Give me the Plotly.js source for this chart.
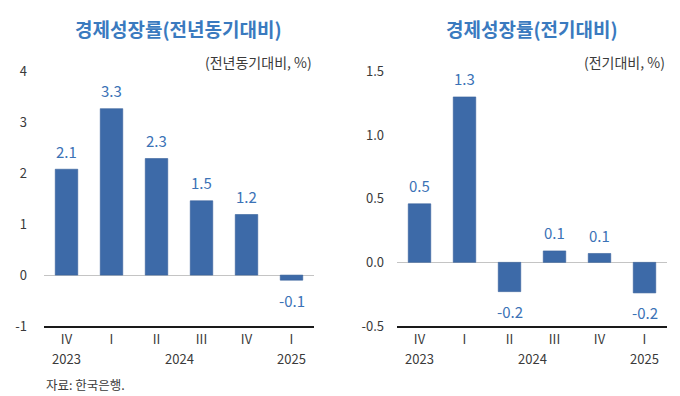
<!DOCTYPE html>
<html>
<head>
<meta charset="utf-8">
<script src="https://cdn.plot.ly/plotly-3.0.1.min.js"></script>
<style>html,body{margin:0;padding:0;background:#fff;}#chart{width:680px;height:396px;}</style>
</head>
<body>
<div id="chart"></div>
<script>
// Data
const quarters = ['IV', 'I', 'II', 'III', 'IV', 'I'];
const yearLabels = ['2023', '2024', '2025'];
const yearPositions = [0, 2.5, 5];
const yoyValues = [2.08, 3.27, 2.29, 1.46, 1.19, -0.1];   // 전년동기대비
const qoqValues = [0.46, 1.30, -0.23, 0.09, 0.07, -0.24]; // 전기대비
const yoyTicks = [-1, 0, 1, 2, 3, 4];
const yoyTickText = ['-1', '0', '1', '2', '3', '4'];
const qoqTicks = [-0.5, 0, 0.5, 1, 1.5];
const qoqTickText = ['-0.5', '0.0', '0.5', '1.0', '1.5'];
const leftTitle = '경제성장률(전년동기대비)';
const rightTitle = '경제성장률(전기대비)';
const leftUnit = '(전년동기대비, %)';
const rightUnit = '(전기대비, %)';
const sourceText = '자료: 한국은행.';

const FONT = '"Noto Sans CJK KR", "Noto Sans", sans-serif';
const BAR = '#3d6aa8';
const LABEL = '#3b72b6';
const TITLE = '#3a7abf';
const TXT = '#3a3a3a';
const xIdx = quarters.map((_, i) => i);

const traces = [
  {type: 'bar', x: xIdx, y: yoyValues, xaxis: 'x', yaxis: 'y', marker: {color: BAR, line: {color: '#35609b', width: 0.6}}, width: 0.5, hoverinfo: 'skip'},
  {type: 'bar', x: xIdx, y: qoqValues, xaxis: 'x2', yaxis: 'y2', marker: {color: BAR, line: {color: '#35609b', width: 0.6}}, width: 0.5, hoverinfo: 'skip'}
];

const annotations = [];
function valueLabels(vals, xr, yr) {
  vals.forEach((v, i) => {
    annotations.push({xref: xr, yref: yr, x: i, y: v, text: v.toFixed(1), showarrow: false,
      xanchor: 'center', yanchor: 'middle', yshift: v >= 0 ? 18 : -20,
      font: {family: FONT, size: 15, color: LABEL, weight: 400}});
  });
}
valueLabels(yoyValues, 'x', 'y');
valueLabels(qoqValues, 'x2', 'y2');

function years(xr) {
  yearLabels.forEach((t, i) => {
    annotations.push({xref: xr, yref: 'paper', x: yearPositions[i], y: (396 - 358) / 396, text: t,
      showarrow: false, xanchor: 'center', yanchor: 'middle', font: {family: FONT, size: 13, color: TXT}});
  });
}
years('x');
years('x2');

annotations.push(
  {xref: 'paper', yref: 'paper', x: 178.5 / 680, y: (396 - 28) / 396, text: leftTitle, showarrow: false,
   xanchor: 'center', yanchor: 'middle', font: {family: FONT, size: 19, color: TITLE, weight: 700}},
  {xref: 'paper', yref: 'paper', x: 532 / 680, y: (396 - 28) / 396, text: rightTitle, showarrow: false,
   xanchor: 'center', yanchor: 'middle', font: {family: FONT, size: 19, color: TITLE, weight: 700}},
  {xref: 'paper', yref: 'paper', x: 314 / 680, y: (396 - 62) / 396, text: leftUnit, showarrow: false,
   xanchor: 'right', yanchor: 'middle', font: {family: FONT, size: 14, color: TXT}},
  {xref: 'paper', yref: 'paper', x: 667 / 680, y: (396 - 62) / 396, text: rightUnit, showarrow: false,
   xanchor: 'right', yanchor: 'middle', font: {family: FONT, size: 14, color: TXT}},
  {xref: 'paper', yref: 'paper', x: 44 / 680, y: (396 - 384) / 396, text: sourceText, showarrow: false,
   xanchor: 'left', yanchor: 'middle', font: {family: FONT, size: 12.5, color: TXT}}
);

const yDomain = [(396 - 326) / 396, (396 - 71.5) / 396];
const xAxisBase = {
  range: [-0.5, 5.5], tickmode: 'array', tickvals: xIdx, ticktext: quarters,
  showline: true, linecolor: '#1a1a1a', linewidth: 2, ticks: '', showgrid: false, zeroline: false,
  tickfont: {family: FONT, size: 13, color: TXT}, fixedrange: true, automargin: false
};
const yAxisBase = {
  domain: yDomain, showgrid: false, zeroline: true, zerolinecolor: '#c4c4c4', zerolinewidth: 1,
  showline: false, ticks: '', tickmode: 'array', tickfont: {family: FONT, size: 13, color: TXT},
  fixedrange: true, automargin: false
};

const layout = {
  width: 680, height: 396, margin: {l: 0, r: 0, t: 0, b: 0},
  paper_bgcolor: '#fff', plot_bgcolor: '#fff', showlegend: false,
  font: {family: FONT, color: TXT},
  xaxis: Object.assign({}, xAxisBase, {domain: [44 / 680, 314 / 680], anchor: 'y'}),
  xaxis2: Object.assign({}, xAxisBase, {domain: [397 / 680, 667 / 680], anchor: 'y2'}),
  yaxis: Object.assign({}, yAxisBase, {range: [-1, 4], tickvals: yoyTicks, ticktext: yoyTickText, anchor: 'x', ticklabelstandoff: 16}),
  yaxis2: Object.assign({}, yAxisBase, {range: [-0.5, 1.5], tickvals: qoqTicks, ticktext: qoqTickText, anchor: 'x2', ticklabelstandoff: 12}),
  annotations: annotations
};

Plotly.newPlot('chart', traces, layout, {staticPlot: true, displayModeBar: false});
</script>
</body>
</html>
